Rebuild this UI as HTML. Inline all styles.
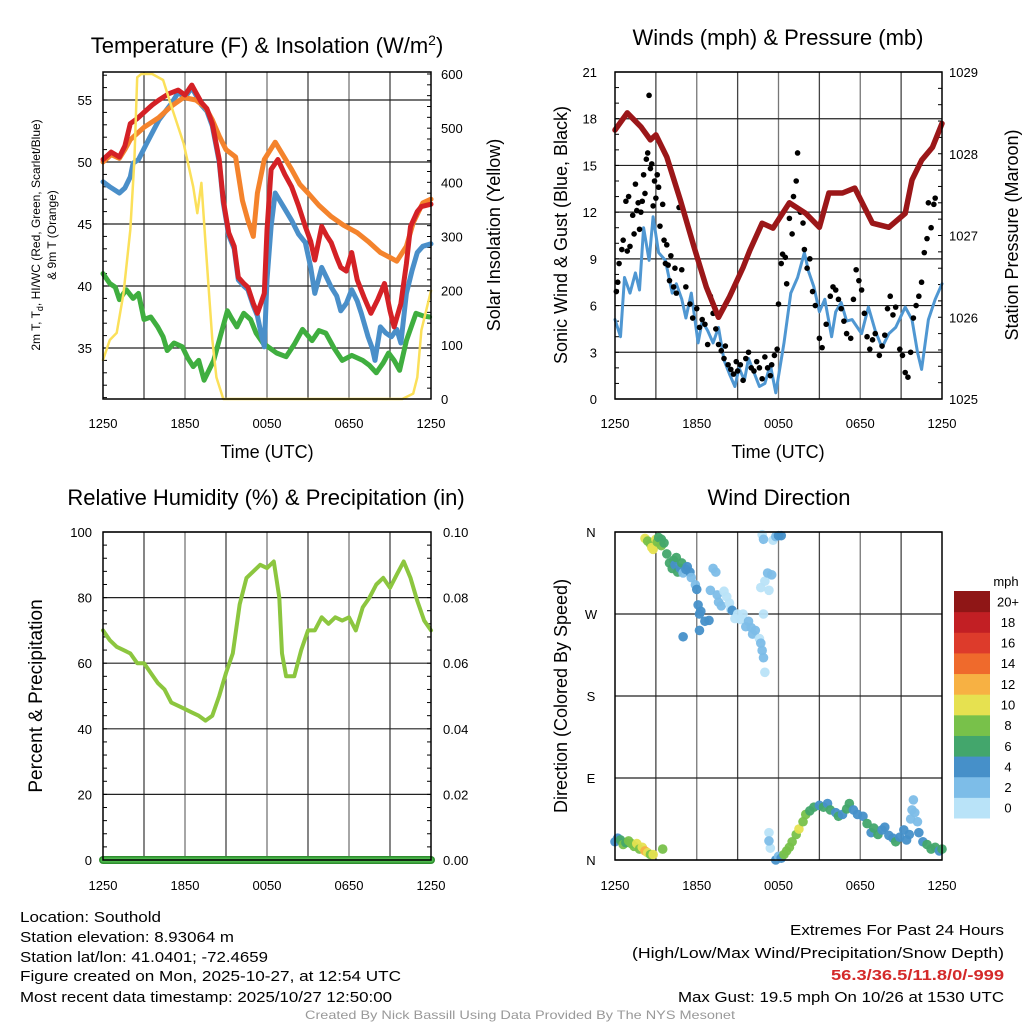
<!DOCTYPE html>
<html><head><meta charset="utf-8"><style>
html,body{margin:0;padding:0;background:#fff;}
svg{display:block;font-family:"Liberation Sans",sans-serif;}
</style></head><body>
<svg id="fig" width="1024" height="1024" viewBox="0 0 1024 1024" xmlns="http://www.w3.org/2000/svg">
<rect width="1024" height="1024" fill="#fff"/>
<g id="layer"></g>
<g font-size="22" text-anchor="middle" fill="#000">
<text x="267" y="53">Temperature (F) &amp; Insolation (W/m<tspan dy="-8" font-size="14">2</tspan><tspan dy="8">)</tspan></text>
<text x="778" y="45">Winds (mph) &amp; Pressure (mb)</text>
<text x="266" y="505">Relative Humidity (%) &amp; Precipitation (in)</text>
<text x="779" y="505">Wind Direction</text>
</g>
<g font-size="18" text-anchor="middle">
<text x="267" y="458">Time (UTC)</text>
<text x="778" y="458">Time (UTC)</text>
<text transform="translate(500,235) rotate(-90)">Solar Insolation (Yellow)</text>
<text transform="translate(567,235) rotate(-90)">Sonic Wind &amp; Gust (Blue, Black)</text>
<text transform="translate(1018,235) rotate(-90)">Station Pressure (Maroon)</text>
<text transform="translate(42,696) rotate(-90)" font-size="19">Percent &amp; Precipitation</text>
<text transform="translate(567,696) rotate(-90)">Direction (Colored By Speed)</text>
</g>
<g font-size="12" text-anchor="middle">
<text transform="translate(40,235) rotate(-90)">2m T, T<tspan font-size="9" dy="3">d</tspan><tspan dy="-3">, HI/WC (Red, Green, Scarlet/Blue)</tspan></text>
<text transform="translate(56,235) rotate(-90)">&amp; 9m T (Orange)</text>
</g>
<g font-size="15" fill="#000">
<text x="20" y="922" textLength="141" lengthAdjust="spacingAndGlyphs">Location: Southold</text>
<text x="20" y="942" textLength="214" lengthAdjust="spacingAndGlyphs">Station elevation: 8.93064 m</text>
<text x="20" y="962" textLength="248" lengthAdjust="spacingAndGlyphs">Station lat/lon: 41.0401; -72.4659</text>
<text x="20" y="981" textLength="381" lengthAdjust="spacingAndGlyphs">Figure created on Mon, 2025-10-27, at 12:54 UTC</text>
<text x="20" y="1002" textLength="372" lengthAdjust="spacingAndGlyphs">Most recent data timestamp: 2025/10/27 12:50:00</text>
<text x="790" y="935" textLength="214" lengthAdjust="spacingAndGlyphs">Extremes For Past 24 Hours</text>
<text x="632" y="958" textLength="372" lengthAdjust="spacingAndGlyphs">(High/Low/Max Wind/Precipitation/Snow Depth)</text>
<text x="831" y="980" fill="#d42a2a" font-weight="bold" textLength="173" lengthAdjust="spacingAndGlyphs">56.3/36.5/11.8/0/-999</text>
<text x="678" y="1002" textLength="326" lengthAdjust="spacingAndGlyphs">Max Gust: 19.5 mph On 10/26 at 1530 UTC</text>
<text x="305" y="1019" font-size="12" fill="#999" textLength="430" lengthAdjust="spacingAndGlyphs">Created By Nick Bassill Using Data Provided By The NYS Mesonet</text>
</g>
</svg>
<script>
// ---------- data ----------
const xTickLabels = ["1250","1850","0050","0650","1250"];
const tempTicks = [35,40,45,50,55];
const solarTicks = [0,100,200,300,400,500,600];
const windTicks = [0,3,6,9,12,15,18,21];
const presTicks = [1025,1026,1027,1028,1029];
const rhTicks = [0,20,40,60,80,100];
const precipTicks = ["0.00","0.02","0.04","0.06","0.08","0.10"];
const dirTicks = ["N","E","S","W","N"];
const speedBins = ["0","2","4","6","8","10","12","14","16","18","20+"];
const speedColors = ["#b9e3f8","#7dbde8","#4690c9","#43a66c","#78c14a","#e6e150","#f7b143","#ef6a2c","#dd3b2b","#c21f24","#8f1616"];

const redH = [0,0.6,1.2,1.6,2.0,2.5,3.0,3.6,4.1,4.8,5.5,6.0,6.5,6.8,7.2,7.6,8.0,8.5,8.8,9.2,9.6,9.9,10.3,10.6,11.0,11.3,11.8,12.0,12.3,12.8,13.3,13.8,14.3,14.8,15.2,15.5,16.0,16.4,16.7,17.1,17.4,17.8,18.2,18.6,19.1,19.6,20.1,20.6,21.0,21.3,21.8,22.2,22.5,23.0,23.3,24];
const redV = [50.2,50.8,50.4,51.3,53.1,53.5,54.0,54.6,55.0,55.5,55.8,55.4,56.2,55.6,54.8,54.3,53.1,50.2,46.9,44.3,43.2,40.7,40.2,39.9,38.6,37.8,39.4,44.5,49.4,50.2,49.0,48.0,46.5,44.8,43.6,42.1,44.8,44.0,43.5,42.3,41.5,41.2,42.7,40.5,39.1,37.8,38.9,40.2,38.0,36.7,38.6,41.8,44.8,46.0,46.4,46.6];
const orangeH = [0,0.6,1.2,1.6,2.0,3.0,4.1,5.0,5.9,6.8,7.5,8.0,8.5,9.0,9.7,10.2,10.6,11.0,11.3,11.8,12.6,13.2,13.8,14.4,15.0,15.8,16.7,17.6,18.6,19.4,20.3,21.0,21.5,22.2,22.7,23.4,24];
const orangeV = [50.0,50.6,50.3,51.0,51.8,52.8,53.6,54.5,55.2,55.0,54.4,53.4,52.1,51.0,50.4,46.9,45.3,44.0,47.5,50.2,51.6,50.5,49.4,48.2,47.5,46.5,45.6,44.9,44.3,43.6,42.7,42.3,42.0,43.2,45.1,46.7,47.0];
const blueH = [0,0.5,1.2,1.6,2.0,2.2,2.6,3.2,4.1,5.0,5.5,6.0,6.5,6.8,7.2,7.6,8.0,8.5,8.8,9.2,9.6,9.9,10.3,10.6,11.0,11.3,11.6,11.8,12.0,12.3,12.6,13.2,13.8,14.3,14.8,15.2,15.5,16.0,16.4,16.7,17.1,17.4,17.8,18.2,18.6,18.9,19.4,19.7,19.9,20.3,20.7,21.1,21.5,21.8,22.2,22.6,23.0,23.4,24];
const blueV = [48.4,48.0,47.5,47.9,48.8,49.9,50.2,51.5,53.4,54.7,55.6,55.2,56.0,55.4,54.6,54.1,52.9,50.0,46.7,44.1,43.0,40.5,40.0,39.7,38.4,37.6,36.0,35.1,40.5,44.8,47.5,46.4,45.3,44.2,43.5,41.5,39.4,41.5,40.6,39.9,39.2,38.0,38.6,39.7,38.8,37.8,35.9,35.0,34.0,36.7,36.2,35.9,36.5,35.4,39.4,41.2,42.7,43.2,43.4];
const greenH = [0,0.5,0.9,1.2,1.7,2.2,2.6,3.0,3.5,4.0,4.4,4.7,5.2,5.8,6.2,6.6,7.0,7.4,8.1,8.6,9.1,9.4,9.8,10.3,10.8,11.2,11.7,12.2,12.7,13.4,14.0,14.6,15.3,15.8,16.3,16.9,17.5,18.2,19.0,19.5,20.0,20.5,20.9,21.3,21.7,22.2,22.9,23.4,23.9];
const greenV = [41.0,40.2,39.9,38.9,39.7,39.0,39.4,37.3,37.5,36.7,35.9,34.8,35.4,35.1,34.2,33.5,34.0,32.4,34.0,36.0,38.0,37.4,36.7,37.8,37.3,36.2,35.4,35.0,34.6,34.3,35.3,36.5,35.6,36.4,36.2,35.0,34.0,34.4,34.0,33.6,33.0,33.8,34.6,34.0,33.2,35.6,37.8,37.6,37.5];
const solarH = [0,0.5,1.0,1.5,2.0,2.3,2.5,2.8,3.6,4.4,5.1,5.9,6.6,6.9,7.2,7.5,7.8,8.0,8.3,8.8,21.9,22.7,23.0,23.3,24];
const solarV = [72,109,122,195,312,441,594,600,600,589,533,472,392,343,399,288,180,110,40,0,0,10,40,127,200];

const presH = [0,0.9,1.9,2.6,3.0,3.8,4.8,5.8,6.7,7.6,8.4,9.4,9.9,10.8,11.6,12.8,14.0,15.0,15.7,16.7,17.6,18.9,20.1,21.3,21.8,22.5,23.3,24];
const presV = [1028.29,1028.5,1028.33,1028.17,1028.23,1027.96,1027.43,1026.86,1026.37,1026.0,1026.25,1026.61,1026.82,1027.15,1027.09,1027.4,1027.27,1027.1,1027.52,1027.52,1027.58,1027.15,1027.1,1027.27,1027.68,1027.92,1028.08,1028.37];
const windH = [0,0.4,0.7,1.1,1.5,1.8,2.1,2.5,2.8,3.2,3.7,4.2,4.5,4.9,5.2,5.6,6.1,6.4,6.8,7.2,7.6,8.0,8.4,8.8,9.1,9.5,9.8,10.2,10.6,11.0,11.4,11.8,12.4,12.9,13.4,13.9,14.2,14.6,15.0,15.4,15.9,16.2,16.6,17.0,17.4,18.1,18.6,19.1,19.6,20.1,20.6,21.3,21.8,22.2,22.5,23.0,23.5,24];
const windV = [5.1,4.0,7.8,6.8,8.1,7.0,11.0,8.9,11.7,9.4,8.9,6.8,7.4,6.4,5.2,6.8,3.6,5.0,4.4,3.6,4.6,2.5,1.6,0.8,2.0,1.2,2.6,1.7,0.8,1.0,2.2,0.4,3.6,6.8,7.8,9.4,8.2,7.2,5.6,6.4,4.0,5.6,6.2,5.0,5.1,4.2,5.9,4.4,3.3,4.2,4.6,5.9,5.1,3.0,1.9,5.1,6.4,7.4];
const gustH = [0.1,0.2,0.3,0.5,0.6,0.8,0.9,1.0,1.1,1.3,1.4,1.5,1.6,1.7,1.8,1.9,2.0,2.1,2.2,2.3,2.4,2.5,2.6,2.7,2.8,2.9,3.0,3.1,3.2,3.3,3.5,3.6,3.7,3.8,3.9,4.0,4.1,4.3,4.4,4.5,4.7,4.9,5.2,5.5,5.7,6.0,6.2,6.4,6.6,6.8,7.0,7.2,7.4,7.6,7.8,8.0,8.1,8.3,8.5,8.7,8.9,9.0,9.2,9.4,9.6,9.8,10.0,10.2,10.4,10.6,10.8,11.0,11.2,11.4,11.5,11.7,11.9,12.0,12.2,12.3,12.5,12.6,12.8,13.0,13.1,13.3,13.4,13.6,13.8,13.9,14.1,14.3,14.5,14.7,15.0,15.2,15.5,15.8,16.0,16.2,16.4,16.6,16.8,17.0,17.3,17.5,17.7,17.9,18.1,18.3,18.5,18.7,18.9,19.1,19.4,19.6,19.8,20.0,20.2,20.4,20.6,20.9,21.1,21.3,21.5,21.7,21.9,22.1,22.3,22.5,22.7,22.9,23.0,23.2,23.4,23.5];
const gustV = [6.9,7.5,8.7,9.6,10.2,12.7,9.5,13.0,9.8,11.8,10.6,13.8,12.1,12.6,10.9,12.0,12.7,14.4,13.2,15.4,15.8,19.5,14.8,15.1,12.4,14.0,12.9,14.4,13.6,11.1,12.5,10.2,8.7,9.9,8.6,7.6,9.2,7.2,8.4,6.8,12.3,8.3,7.2,6.1,5.2,5.8,4.6,5.1,4.8,3.5,6.6,5.5,4.5,3.5,3.1,2.6,3.4,2.2,1.9,1.6,2.4,1.8,2.2,1.2,2.6,3.0,2.0,1.8,2.4,2.0,1.3,2.7,2.0,1.5,2.2,2.8,3.2,6.1,8.7,9.3,9.1,7.4,11.6,10.6,13.0,14.0,15.8,12.0,11.3,9.6,8.4,9.0,6.9,6.0,3.9,3.3,4.8,6.6,7.2,7.0,6.4,5.8,5.0,4.2,3.9,6.4,8.3,7.6,7.0,5.5,4.0,3.2,3.8,4.2,2.8,3.4,4.1,5.8,6.6,5.4,5.9,3.2,2.8,1.7,1.4,3.0,5.2,6.0,6.6,7.5,9.4,10.3,12.6,11.0,12.5,12.9];

const rhH = [0,0.5,1,1.5,2,2.5,3,3.5,4,4.5,5,5.5,6,6.5,7,7.5,8,8.5,9,9.5,10,10.5,11,11.5,12,12.5,12.9,13.1,13.4,14,14.5,15,15.5,16,16.5,17,17.5,18,18.5,19,19.5,20,20.5,21,21.5,22,22.5,23,23.5,24];
const rhV = [70,67,65,64,63,60,60,57,54,52,48,47,46,45,44,42.5,44,50,57,63,78,86,88,90,89,91,80,63,56,56,64,70,70,74,72,74,73,74,70,77,80,84,86,83,87,91,86,79,73,70];
const precipH = [0,24];
const precipV = [0,0];

const dirH = [2.2,2.4,2.6,2.7,2.8,3.0,3.1,3.2,3.4,3.4,3.6,3.8,4.0,4.2,4.3,4.4,4.5,4.6,4.8,4.9,5.0,5.2,5.3,5.5,5.6,5.9,6.0,6.1,6.2,6.3,6.6,6.9,7.0,7.2,7.4,7.5,7.6,7.8,8.0,8.2,8.4,8.5,8.6,8.8,9.0,9.2,9.4,9.6,9.8,10.0,10.1,10.3,10.6,10.7,10.8,10.9,11.0,10.9,10.7,10.8,10.9,11.0,11.2,11.3,11.5,11.6,11.8,12.0,12.2,5.0,6.2,
 0,0.2,0.4,0.6,0.8,1.0,1.2,1.4,1.6,1.8,2.0,2.2,2.4,2.6,2.8,3.5,
 11.8,12.0,12.2,12.4,12.6,12.8,13.0,13.3,13.5,13.8,14.0,14.3,14.6,15.0,15.3,15.6,15.8,16.2,16.4,16.7,17.0,17.2,17.5,17.8,18.2,18.5,18.8,19.0,19.3,19.6,19.8,20.1,20.4,20.6,20.9,21.2,21.4,21.6,21.7,21.8,21.9,22.0,22.2,22.3,22.6,22.9,23.2,23.5,23.8,24,11.3,11.4,11.3];
const dirV = [353,350,347,343,341,352,349,354,352,345,348,336,326,320,329,324,332,316,320,326,315,319,322,316,310,302,297,280,270,273,262,263,296,320,316,291,283,279,295,289,282,275,274,265,270,264,270,256,262,255,248,252,243,238,230,222,206,270,299,357,352,306,315,296,313,351,355,356,356,245,252,
 20,24,22,17,19,21,18,15,18,12,14,10,8,6,6,12,
 0,4,2,6,10,14,20,28,34,42,50,54,58,60,58,62,55,52,48,50,56,62,55,50,48,40,30,35,28,33,36,27,24,20,25,33,22,28,45,55,66,52,42,30,20,17,12,14,10,12,30,13,21];
const dirSpeed = [10,8,8,10,10,10,8,6,6,8,6,6,6,6,6,4,6,6,4,6,2,4,4,4,2,2,4,4,4,4,4,4,2,2,2,2,2,2,0,0,0,0,4,0,0,0,0,2,2,2,2,2,0,2,2,2,0,0,0,0,2,0,2,0,2,0,2,4,4,4,4,
 4,4,6,8,6,8,8,8,10,8,10,12,10,8,10,8,
 4,2,4,8,8,8,8,8,10,8,8,6,6,4,6,4,6,4,6,4,6,6,4,4,4,6,4,6,6,4,4,4,4,6,4,4,4,4,2,2,2,2,2,4,4,6,6,6,4,6,0,0,2];

// ---------- drawing ----------
const NS = "http://www.w3.org/2000/svg";
const layer = document.getElementById("layer");
function mk(tag, attrs, parent) {
  const e = document.createElementNS(NS, tag);
  for (const k in attrs) e.setAttribute(k, attrs[k]);
  (parent || layer).appendChild(e);
  return e;
}
function lin(d0, d1, r0, r1) { return v => r0 + (v - d0) * (r1 - r0) / (d1 - d0); }
function pathFrom(xs, ys, fx, fy) {
  let d = "";
  for (let i = 0; i < xs.length; i++) d += (i ? "L" : "M") + fx(xs[i]).toFixed(1) + "," + fy(ys[i]).toFixed(1);
  return d;
}
function frame(name) {
  const g = mk("g", {});
  
  
  return g;
}
function vgrid(g, x0, y0, x1, y1) {
  for (let k = 1; k < 8; k++) {
    const x = x0 + (x1 - x0) * k / 8;
    const l = mk("line", {x1: x, x2: x, y1: y0, y2: y1, stroke: k % 2 ? "#444" : "#777", "stroke-width": 1.3}, g);
    
    
  }
}
function xLabels(g, x0, x1, y) {
  xTickLabels.forEach((t, i) => {
    const tx = mk("text", {x: x0 + (x1 - x0) * i / 4, y: y, "font-size": 13, "text-anchor": "middle"}, g);
    tx.textContent = t;
    
    
  });
}
function border(g, x0, y0, x1, y1) {
  const r = mk("rect", {x: x0, y: y0, width: x1 - x0, height: y1 - y0, fill: "none", stroke: "#000", "stroke-width": 1.5}, g);
  
  
}
function hgridLabels(g, ticks, fy, x0, x1, lx, anchor, grid, labels) {
  ticks.forEach((v, i) => {
    const y = fy(v);
    if (grid) {
      const l = mk("line", {x1: x0, x2: x1, y1: y, y2: y, stroke: "#222", "stroke-width": 1.2}, g);
      
      
    }
    const t = mk("text", {x: lx, y: y + 5, "font-size": 13, "text-anchor": anchor}, g);
    t.textContent = labels ? labels[i] : v;
    
    
  });
}
function minorTicks(g, d0, d1, step, fy, x, dir) {
  for (let v = d0; v <= d1 + 1e-9; v += step) {
    const y = fy(v);
    const l = mk("line", {x1: x, x2: x + dir * 4, y1: y, y2: y, stroke: "#000", "stroke-width": 1}, g);
    
    
  }
}
function series(g, xs, ys, fx, fy, color, w, name) {
  const p = mk("path", {d: pathFrom(xs, ys, fx, fy), fill: "none", stroke: color, "stroke-width": w, "stroke-linejoin": "round", "stroke-linecap": "round"}, g);
  
  
  return p;
}

// Panel 1: temperature
(function () {
  const x0 = 103, x1 = 431, y0 = 72, y1 = 399;
  const fx = lin(0, 24, x0, x1);
  const fy = lin(35, 55, 348, 100);
  const fs = lin(0, 600, 399, 74);
  const g = frame("temperature-panel");
  vgrid(g, x0, y0, x1, y1);
  hgridLabels(g, tempTicks, fy, x0, x1, 92, "end", true);
  hgridLabels(g, solarTicks, fs, x0, x1, 441, "start", false);
  minorTicks(g, 31, 57, 1, fy, x0, 1);
  minorTicks(g, 0, 600, 20, fs, x1, -1);
  xLabels(g, x0, x1, 428);
  series(g, greenH, greenV, fx, fy, "#3fae3f", 5, "dewpoint-line");
  series(g, blueH, blueV, fx, fy, "#4a8fc9", 5, "heat-index-windchill-line");
  series(g, orangeH, orangeV, fx, fy, "#f4832c", 5, "9m-temperature-line");
  series(g, redH, redV, fx, fy, "#d42126", 5, "2m-temperature-line");
  series(g, solarH, solarV, fx, fs, "#fbe05a", 2.5, "solar-insolation-line");
  border(g, x0, y0, x1, y1);
})();

// Panel 2: winds & pressure
(function () {
  const x0 = 615, x1 = 942, y0 = 72, y1 = 399;
  const fx = lin(0, 24, x0, x1);
  const fy = lin(0, 21, y1, y0);
  const fp = lin(1025, 1029, y1, y0);
  const g = frame("winds-panel");
  vgrid(g, x0, y0, x1, y1);
  hgridLabels(g, windTicks, fy, x0, x1, 597, "end", true);
  hgridLabels(g, presTicks, fp, x0, x1, 949, "start", false);
  minorTicks(g, 0, 21, 1, fy, x0, 1);
  minorTicks(g, 1025, 1029, 0.2, fp, x1, -1);
  xLabels(g, x0, x1, 428);
  series(g, windH, windV, fx, fy, "#4f97d2", 3, "sonic-wind-line");
  gustH.forEach((h, i) => {
    const c = mk("circle", {cx: fx(h), cy: fy(gustV[i]), r: 2.8, fill: "#000"}, g);
    
    
  });
  series(g, presH, presV, fx, fp, "#9b1719", 5.5, "pressure-line");
  border(g, x0, y0, x1, y1);
})();

// Panel 3: RH
(function () {
  const x0 = 103, x1 = 431, y0 = 532, y1 = 860;
  const fx = lin(0, 24, x0, x1);
  const fy = lin(0, 100, y1, y0);
  const fq = lin(0, 0.1, y1, y0);
  const g = frame("humidity-panel");
  vgrid(g, x0, y0, x1, y1);
  hgridLabels(g, rhTicks, fy, x0, x1, 92, "end", true);
  hgridLabels(g, [0, 0.02, 0.04, 0.06, 0.08, 0.1], fq, x0, x1, 443, "start", false, precipTicks);
  minorTicks(g, 0, 100, 4, fy, x0, 1);
  minorTicks(g, 0, 0.1, 0.004, fq, x1, -1);
  xLabels(g, x0, x1, 890);
  series(g, rhH, rhV, fx, fy, "#8cc63f", 4, "relative-humidity-line");
  series(g, precipH, precipV, fx, fq, "#2f8f2f", 8, "precipitation-line-edge");
  series(g, precipH, precipV, fx, fq, "#4cb84c", 5, "precipitation-line");
  border(g, x0, y0, x1, y1);
})();

// Panel 4: wind direction
(function () {
  const x0 = 615, x1 = 942, y0 = 532, y1 = 860;
  const fx = lin(0, 24, x0, x1);
  const fy = lin(0, 360, y1, y0);
  const g = frame("wind-direction-panel");
  vgrid(g, x0, y0, x1, y1);
  hgridLabels(g, [0, 90, 180, 270, 360], fy, x0, x1, 591, "middle", true, dirTicks);
  xLabels(g, x0, x1, 890);
  dirH.forEach((h, i) => {
    const bin = Math.min(10, Math.round(dirSpeed[i] / 2));
    const c = mk("circle", {cx: fx(h), cy: fy(dirV[i]), r: 4.8, fill: speedColors[bin], "fill-opacity": 0.95}, g);
    
    
  });
  border(g, x0, y0, x1, y1);
  const cb = mk("g", {});
  
  
  const t0 = mk("text", {x: 1006, y: 586, "font-size": 13, "text-anchor": "middle"}, cb);
  t0.textContent = "mph";
  
  
  const bh = 227 / 11;
  speedBins.forEach((s, i) => {
    const r = mk("rect", {x: 954, y: 591 + (10 - i) * bh, width: 36, height: bh + 0.5, fill: speedColors[i]}, cb);
    
    
    const t = mk("text", {x: 1008, y: 591 + (10 - i) * bh + bh / 2 + 5, "font-size": 13, "text-anchor": "middle"}, cb);
    t.textContent = s;
    
    
  });
})();
</script>
</body></html>
